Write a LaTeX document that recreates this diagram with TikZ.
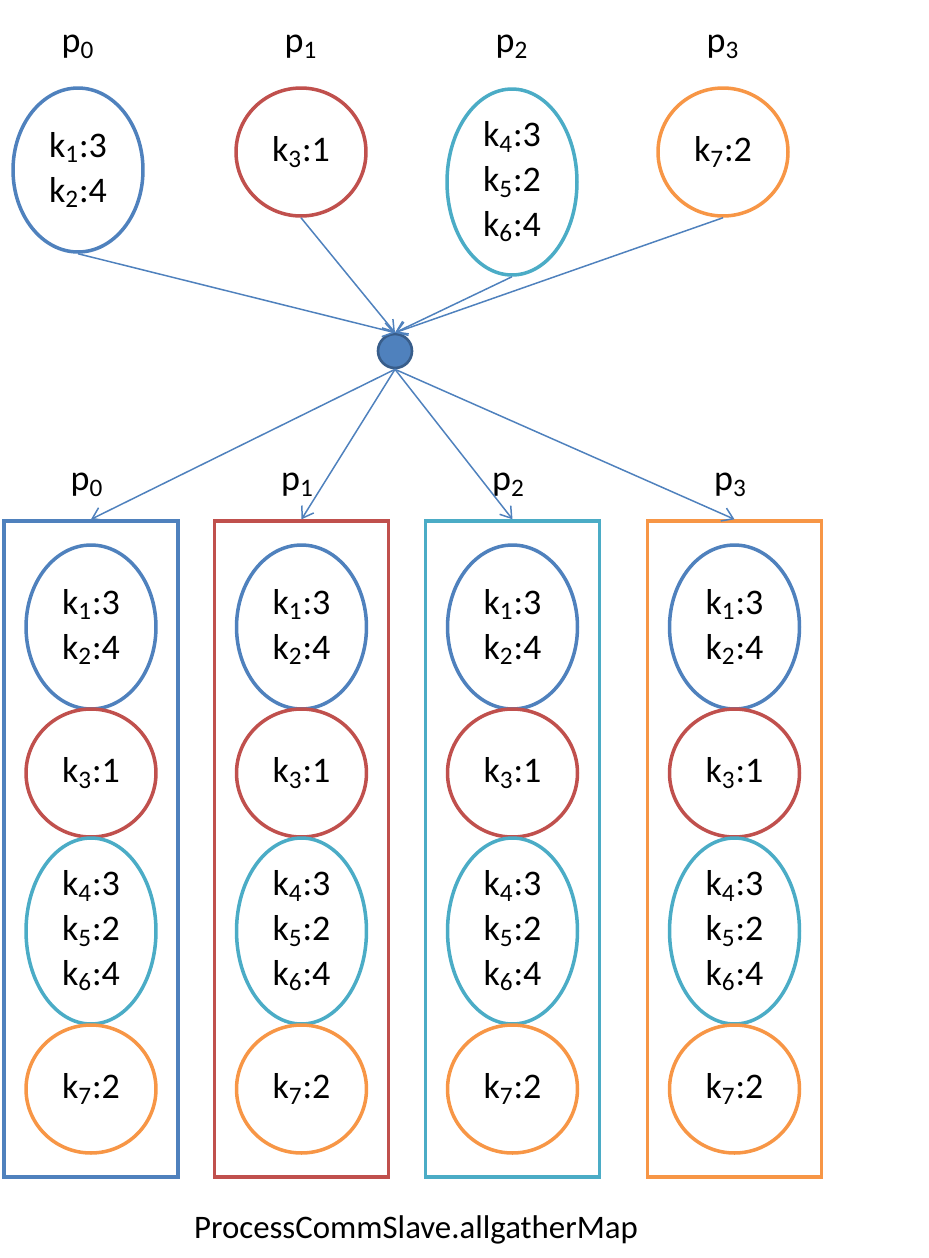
\documentclass[tikz,border=0pt]{standalone}
\usepackage{fontspec}
\setmainfont{Carlito}
\usetikzlibrary{shapes.geometric,arrows.meta}
\definecolor{pblue}{HTML}{4F81BD}
\definecolor{pred}{HTML}{C0504D}
\definecolor{pcyan}{HTML}{4BACC6}
\definecolor{porange}{HTML}{F79646}
\definecolor{pdark}{HTML}{385D8A}
\newcommand{\keysA}{k\textsubscript{1}:3\\k\textsubscript{2}:4}
\newcommand{\keysB}{k\textsubscript{3}:1}
\newcommand{\keysC}{k\textsubscript{4}:3\\k\textsubscript{5}:2\\k\textsubscript{6}:4}
\newcommand{\keysD}{k\textsubscript{7}:2}
\tikzset{
  keys/.style={ellipse, draw=#1, line width=2pt, minimum width=2.6cm, inner sep=0pt,
    align=center, font=\fontsize{20.5}{25.5}\selectfont},
  procbox/.style={rectangle, draw=#1, line width=2pt, minimum width=3.48cm, minimum height=13.12cm, inner sep=0pt},
  plabel/.style={font=\fontsize{20.5}{24}\selectfont, inner sep=0pt},
  conn/.style={draw=pblue, line width=0.85pt, -{Straight Barb[length=6pt,width=8pt]}}
}
\begin{document}
\begin{tikzpicture}[x=0.02cm, y=-0.02cm]
        \useasboundingbox (0,0) rectangle (929,1258);
        \node[keys=pblue, minimum height=3.28cm] (t0) at (78,170) {\keysA};
        \node[keys=pred, minimum height=2.56cm] (t1) at (301,152) {\keysB};
        \node[keys=pcyan, minimum height=3.72cm] (t2) at (512,182) {\keysC};
        \node[keys=porange, minimum height=2.56cm] (t3) at (723,152) {\keysD};
        \foreach \i/\x in {0/78,1/301,2/512,3/723}
            \node[plabel] (tl\i) at (\x,47) {p\textsubscript{\i}};
        \node[circle, fill=pblue, draw=pdark, line width=1.5pt, minimum size=0.68cm, inner sep=0pt] (hub) at (395,351) {};
        \foreach \i in {0,...,3}
            \draw[conn] (t\i.south) -- (hub.north);
        \foreach \i/\x/\c in {0/91/pblue,1/301.5/pred,2/512.5/pcyan,3/734.5/porange}{
            \node[procbox=\c] (box\i) at (\x,849) {};
            \node[plabel] (bl\i) at (\x-4,485) {p\textsubscript{\i}};
            \node[keys=pblue, minimum height=3.28cm] (a\i) at (\x,627) {\keysA};
            \node[keys=pred, minimum height=2.56cm] (b\i) at (\x,773) {\keysB};
            \node[keys=pcyan, minimum height=3.72cm] (c\i) at (\x,931) {\keysC};
            \node[keys=porange, minimum height=2.56cm] (d\i) at (\x,1089) {\keysD};
            \draw[conn] (hub.south) -- (box\i.north);
        }
        \node[font=\fontsize{18.7}{22}\selectfont] (caption) at (416,1230) {ProcessCommSlave.allgatherMap};
    \end{tikzpicture}
\end{document}
